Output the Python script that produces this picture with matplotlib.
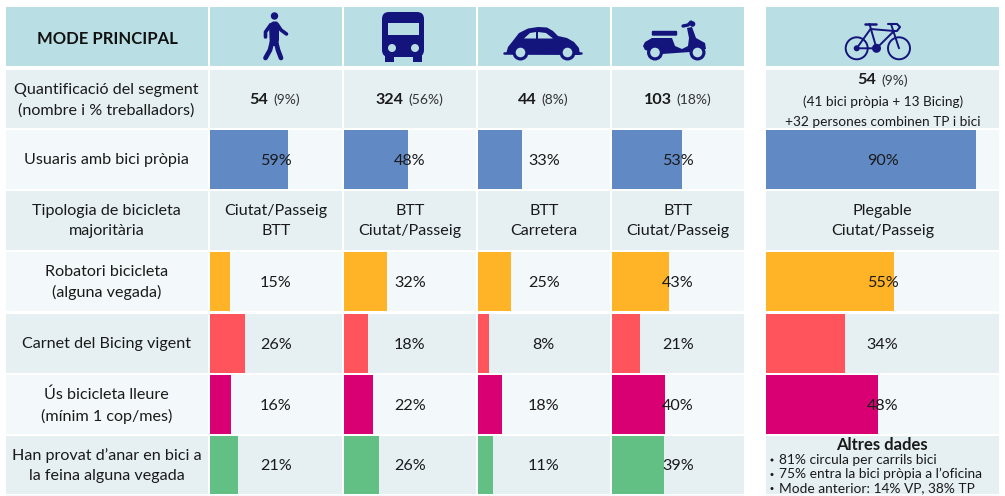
import matplotlib
matplotlib.use("Agg")
import matplotlib.pyplot as plt
from matplotlib.patches import Circle, FancyBboxPatch, Polygon, Rectangle

plt.rcParams["font.family"] = ["Lato", "DejaVu Sans"]

# dades
row_labels = [
    "Quantificació del segment\n(nombre i % treballadors)",
    "Usuaris amb bici pròpia",
    "Tipologia de bicicleta\nmajoritària",
    "Robatori bicicleta\n(alguna vegada)",
    "Carnet del Bicing vigent",
    "Ús bicicleta lleure\n(mínim 1 cop/mes)",
    "Han provat d’anar en bici a\nla feina alguna vegada",
]
counts = ["54", "324", "44", "103", "54"]
shares = ["(9%)", "(56%)", "(8%)", "(18%)", "(9%)"]
bike_notes = ["(41 bici pròpia + 13 Bicing)", "+32 persones combinen TP i bici"]
tipologia = ["Ciutat/Passeig\nBTT", "BTT\nCiutat/Passeig", "BTT\nCarretera",
             "BTT\nCiutat/Passeig", "Plegable\nCiutat/Passeig"]
bici_propia = [59, 48, 33, 53, 90]
robatori = [15, 32, 25, 43, 55]
bicing = [26, 18, 8, 21, 34]
lleure = [16, 22, 18, 40, 48]
provat = [21, 26, 11, 39]
altres_titol = "Altres dades"
altres = ["81% circula per carrils bici", "75% entra la bici pròpia a l’oficina",
          "Mode anterior: 14% VP, 38% TP"]

HEADER = "#B9DEE3"
DARK = "#E6F0F3"
LIGHT = "#F3F8FA"
NAVY = "#14147D"
INK = "#1A1A1A"

# limits en pixels de cada columna i fila
COL_X = [(209.5, 342), (343.5, 476), (477.5, 610), (612, 743.5), (766, 999)]
BAR_X = [210, 344, 478, 612, 766]
BAR_W = [133, 133, 133, 133, 233]
ROW_Y = [(70, 128), (130, 188.5), (191, 249.5), (252, 311), (314, 372.5), (375, 434), (436, 493.5)]
TEXT_DY = 1.5
FS = 11.6
LS = 1.55

fig = plt.figure(figsize=(10.05, 4.96), dpi=100)
ax = fig.add_axes([0, 0, 1, 1])
ax.set_xlim(0, 1005)
ax.set_ylim(496, 0)
ax.axis("off")


def cell(x0, x1, y0, y1, color):
    ax.add_patch(Rectangle((x0, y0), x1 - x0, y1 - y0, fc=color, ec="none", zorder=1))


def bars(row, values, color):
    y0, y1 = ROW_Y[row]
    for x0, w, (cx0, cx1), v in zip(BAR_X, BAR_W, COL_X, values):
        ax.barh((y0 + y1) / 2, w * v / 100, left=x0, height=y1 - y0, color=color, zorder=2)
        ax.text((cx0 + cx1) / 2, (y0 + y1) / 2 + TEXT_DY, f"{v}%", ha="center", va="center",
                fontsize=FS, color=INK, zorder=3)


def stroke(pts, lw, cap="round"):
    xs, ys = zip(*pts)
    ax.plot(xs, ys, color=NAVY, lw=lw, solid_capstyle=cap, solid_joinstyle="round", zorder=4)


def disc(x, y, r, color=NAVY, z=4):
    ax.add_patch(Circle((x, y), r, fc=color, ec="none", zorder=z))


def ring(x, y, r, lw):
    ax.add_patch(Circle((x, y), r, fc="none", ec=NAVY, lw=lw, zorder=4))


def poly(pts, color=NAVY, z=4):
    ax.add_patch(Polygon(pts, closed=True, fc=color, ec="none", zorder=z))


def draw_walker():
    disc(274.5, 16, 3.7)
    poly([(269, 24), (273, 21.5), (277, 21.5), (279, 26), (279, 40), (277.5, 46), (270, 46), (269.5, 38)])
    stroke([(270.5, 25), (265.5, 32), (265.5, 37)], 2.6)
    stroke([(277, 24), (281, 30), (286.5, 34)], 2.6)
    stroke([(272, 42), (270, 50), (265.5, 58)], 3.4)
    stroke([(276, 42), (278, 50), (281, 58)], 3.4)


def draw_bus():
    ax.add_patch(FancyBboxPatch((386, 16), 34, 37, boxstyle="round,pad=4,rounding_size=7",
                                fc=NAVY, ec="none", zorder=4))
    ax.add_patch(Rectangle((388, 23), 31, 12, fc=HEADER, ec="none", zorder=5))
    disc(392, 48, 4, HEADER, 5)
    disc(415, 48, 4, HEADER, 5)
    ax.add_patch(Rectangle((385, 54), 9, 8, fc=NAVY, ec="none", zorder=4))
    ax.add_patch(Rectangle((413, 54), 9, 8, fc=NAVY, ec="none", zorder=4))


def draw_car():
    poly([(506, 54), (508, 47), (512, 42), (519, 33), (528, 28.5), (538, 27), (547, 27.5), (553, 31),
          (558, 36), (567, 38), (574, 42), (579, 48), (580, 55)])
    stroke([(504, 52.5), (581, 52.5)], 1.8)
    for x in (520.5, 567.5):
        disc(x, 52.5, 8)
        disc(x, 52.5, 4.8, HEADER, 5)
    poly([(524, 38.5), (530, 33), (536, 32), (536, 38.5)], HEADER, 5)
    poly([(538, 38.5), (538, 32), (546, 33), (553, 38.5)], HEADER, 5)


def draw_scooter():
    for x in (655, 697.5):
        disc(x, 52.5, 8)
        disc(x, 52.5, 4.8, HEADER, 5)
    poly([(645, 42), (652, 38), (672, 38), (675, 46), (682, 49), (688, 46), (689, 38), (687, 28),
          (692, 27), (696, 38), (705, 43), (706, 49), (690, 52), (662, 54), (645, 50), (643, 46)])
    ax.add_patch(FancyBboxPatch((653, 32), 23, 2.5, boxstyle="round,pad=1.2", fc=NAVY, ec="none",
                                zorder=4))
    stroke([(683, 26), (688, 25), (691, 22)], 2.4)
    disc(692.5, 24, 2.8)


def draw_bike():
    ring(856.7, 48.3, 11, 1.4)
    ring(899, 48.3, 11, 1.4)
    disc(856.7, 48.3, 3)
    disc(876.5, 48.3, 4.5)
    lw = 1.4
    stroke([(856.7, 48.3), (876.5, 48.3), (869.5, 24)], lw)
    stroke([(856.7, 48.3), (870.5, 29), (894, 31), (876.5, 48.3)], lw)
    stroke([(891, 24), (899, 48.3)], lw)
    stroke([(865, 24), (876, 24)], 1.8)
    stroke([(888, 24), (897, 24), (900, 27), (897, 31), (894, 31)], 1.5)


# capcalera
cell(6, 207.5, 7, 66, HEADER)
for x0, x1 in COL_X:
    cell(x0, x1, 7, 66, HEADER)
ax.text(107, 38.5, "MODE PRINCIPAL", ha="center", va="center", fontsize=12,
        fontweight="bold", color="#111111")
draw_walker()
draw_bus()
draw_car()
draw_scooter()
draw_bike()

# files
for i, ((y0, y1), label) in enumerate(zip(ROW_Y, row_labels)):
    color = DARK if i % 2 == 0 else LIGHT
    cell(6, 207.5, y0, y1, color)
    for x0, x1 in COL_X:
        cell(x0, x1, y0, y1, color)
    ax.text(106.5, (y0 + y1) / 2 + TEXT_DY - 0.5, label, ha="center", va="center", fontsize=FS,
            linespacing=LS, color=INK, zorder=3)
cell(6, 207.5, 495, 496, LIGHT)
for x0, x1 in COL_X:
    cell(x0, x1, 495, 496, LIGHT)

# fila de quantificacio
split_x = [268.5, 404, 537, 672]
for x, n, s in zip(split_x, counts, shares):
    ax.text(x, 99.5, n, ha="right", va="center", fontsize=FS, fontweight="bold", color=INK, zorder=3)
    ax.text(x + 4.5, 100, s, ha="left", va="center", fontsize=10, color="#333333", zorder=3)
ax.text(876.5, 80.5, counts[4], ha="right", va="center", fontsize=FS, fontweight="bold", color=INK, zorder=3)
ax.text(881, 81, shares[4], ha="left", va="center", fontsize=10, color="#333333", zorder=3)
for y, note in zip((102, 122), bike_notes):
    ax.text(883, y, note, ha="center", va="center", fontsize=9.8, color=INK, zorder=3)

# tipologia
y0, y1 = ROW_Y[2]
for (x0, x1), t in zip(COL_X, tipologia):
    ax.text((x0 + x1) / 2, (y0 + y1) / 2 + TEXT_DY - 0.5, t, ha="center", va="center", fontsize=FS,
            linespacing=LS, color=INK, zorder=3)

bars(1, bici_propia, "#6189C4")
bars(3, robatori, "#FFB326")
bars(4, bicing, "#FF545C")
bars(5, lleure, "#D80073")
bars(6, provat, "#62C084")

# altres dades
ax.text(882, 445, altres_titol, ha="center", va="center", fontsize=12, fontweight="bold",
        color=INK, zorder=3)
for y, t in zip((459.5, 474, 488), altres):
    disc(772, y + 0.5, 1.5, INK, 3)
    ax.text(779, y, t, ha="left", va="center", fontsize=9.9, color=INK, zorder=3)

fig.savefig("out.png", dpi=100)
